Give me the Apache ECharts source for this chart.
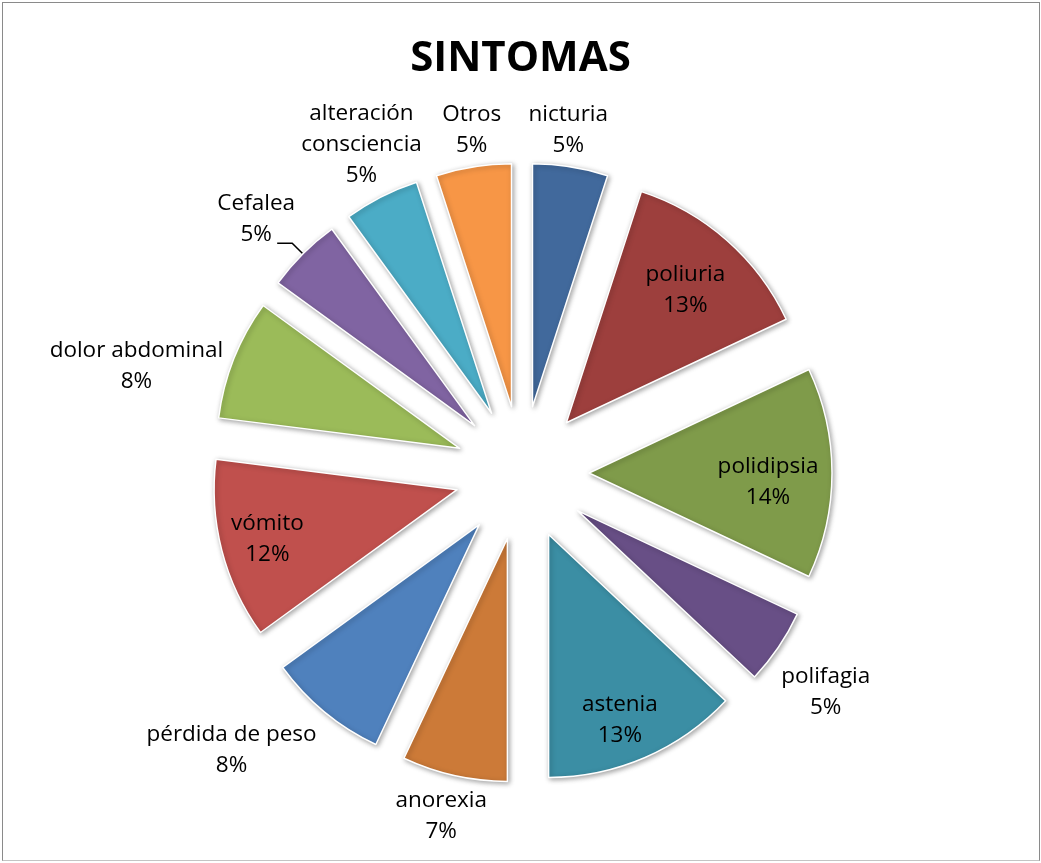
<!DOCTYPE html>
<html>
<head>
<meta charset="utf-8">
<title>SINTOMAS</title>
<script src="https://cdn.jsdelivr.net/npm/echarts@6/dist/echarts.min.js"></script>
<style>
  html, body { margin: 0; padding: 0; background: #fff; }
  #chart { position: absolute; left: 0; top: 0; width: 1041px; height: 863px; }
  #frame {
    position: absolute; left: 2px; top: 2px; width: 1036px; height: 857px;
    border: 1px solid #8a8a8a; border-bottom-color: #c4c4c4;
    pointer-events: none; z-index: 2;
  }
</style>
</head>
<body>
<div id="chart"></div>
<div id="frame"></div>
<script>
// Symptom categories and their share of cases (%)
const categories = [
  'nicturia', 'poliuria', 'polidipsia', 'polifagia', 'astenia', 'anorexia',
  'pérdida de peso', 'vómito', 'dolor abdominal', 'Cefalea',
  'alteración consciencia', 'Otros'
];
const percentages = [5, 13, 14, 5, 13, 7, 8, 12, 8, 5, 5, 5];

// Slice fills
const sliceColors = [
  '#41699c', '#9d3f3d', '#7f9b4a', '#684f86', '#3b8ea4', '#cc7a38',
  '#4f81bd', '#c0504d', '#9bbb59', '#8064a2', '#4bacc6', '#f79646'
];

// Label placement per slice: line lengths (radial, horizontal), vertical nudge,
// gap to the leader line, and whether the name wraps word by word
const labelPlacement = [
  { len: 37, len2: -8 },
  { len: -66, len2: 2 },
  { len: -64, len2: 0, shiftY: 9 },
  { len: 79, len2: -18 },
  { len: -41, len2: -9 },
  { len: 42, len2: 4 },
  { len: 50, len2: 61 },
  { len: -45, len2: -2 },
  { len: -19, len2: 115 },
  { len: 15, len2: 15, gap: 21, shiftY: -24, line: true },
  { len: 59, len2: -7, wrap: true },
  { len: 37, len2: -4 }
];

const FONT = '"Open Sans", "DejaVu Sans", sans-serif';

const pieData = categories.map(function (name, i) {
  const p = labelPlacement[i];
  return {
    name: name,
    value: percentages[i],
    selected: true,
    itemStyle: { color: sliceColors[i] },
    label: { distanceToLabelLine: p.gap || 0 },
    labelLine: { show: !!p.line, length: p.len, length2: p.len2 }
  };
});

const chart = echarts.init(document.getElementById('chart'), null, { renderer: 'canvas' });

const sliceStyle = {
  borderColor: '#ffffff',
  borderWidth: 1.5,
  shadowBlur: 5,
  shadowColor: 'rgba(0,0,0,0.35)',
  shadowOffsetX: 1.5,
  shadowOffsetY: 1.5
};

chart.setOption({
  backgroundColor: '#ffffff',
  animation: false,
  title: {
    text: 'SINTOMAS',
    left: 'center',
    top: 33,
    textStyle: { fontFamily: FONT, fontWeight: 'bold', fontSize: 42, color: '#000' }
  },
  series: [{
    type: 'pie',
    center: [522, 473],
    radius: [0, 243],
    startAngle: 90,
    clockwise: true,
    selectedMode: 'multiple',
    selectedOffset: 67,
    avoidLabelOverlap: false,
    emphasis: { disabled: true },
    itemStyle: sliceStyle,
    select: { itemStyle: sliceStyle },
    label: {
      show: true,
      position: 'outside',
      color: '#000',
      fontFamily: FONT,
      fontSize: 22.5,
      lineHeight: 31,
      formatter: function (p) {
        const name = labelPlacement[p.dataIndex].wrap ? p.name.split(' ').join('\n') : p.name;
        return name + '\n' + Math.round(p.percent) + '%';
      }
    },
    labelLine: {
      smooth: false,
      lineStyle: { color: '#000', width: 1.5 }
    },
    labelLayout: function (params) {
      const p = labelPlacement[params.dataIndex];
      const opt = { align: 'center' };
      if (p.shiftY) opt.dy = p.shiftY;
      return opt;
    },
    data: pieData
  }]
});
</script>
</body>
</html>
